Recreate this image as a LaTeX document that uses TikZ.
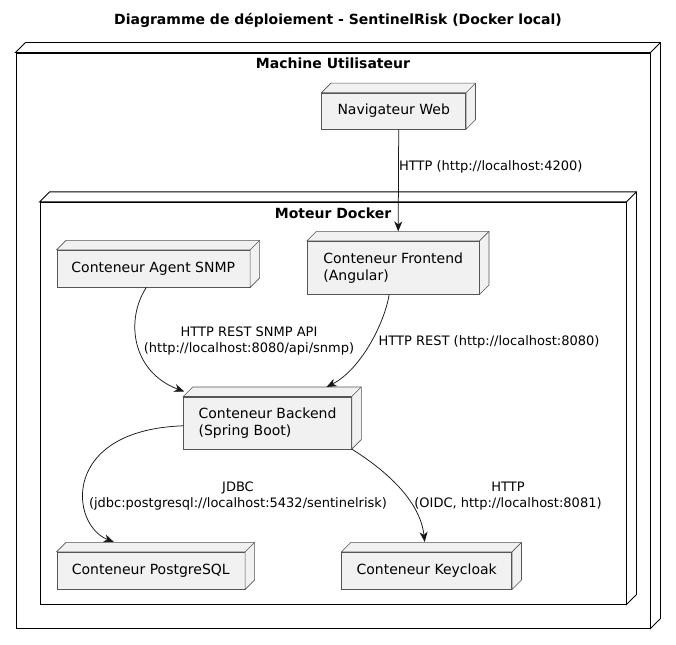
\documentclass[tikz,border=0pt]{standalone}
\usepackage{fontspec}
\setmainfont{DejaVu Sans}
\usetikzlibrary{arrows.meta}

\definecolor{boxfill}{HTML}{F1F1F1}
\definecolor{boxline}{HTML}{555555}
\definecolor{arrowline}{HTML}{181818}

\begin{document}
\begin{tikzpicture}[
		x=1pt, y=-1pt,
		container/.style={draw=black, line width=0.9pt, fill=white, inner sep=0pt},
		depot/.style={draw=boxline, line width=0.6pt, fill=boxfill, inner sep=0pt, align=left,
			font=\fontsize{14}{17}\selectfont},
		side/.style={draw=boxline, line width=0.6pt, fill=boxfill},
		heading/.style={font=\fontsize{14}{17}\selectfont\bfseries},
		lien/.style={draw=arrowline, line width=0.75pt, -{Stealth[length=10pt,width=8pt,inset=3pt]}},
		etiquette/.style={font=\fontsize{13}{15.5}\selectfont, align=center, inner sep=0pt}
	]
	\useasboundingbox (0,0) rectangle (676,644);

	\node[heading] (titre) at (338,20) {Diagramme de déploiement - SentinelRisk (Docker local)};

	% Machine Utilisateur
	\node[container, minimum width=634, minimum height=575] (machine) at (333,340.5) {};
	\filldraw[container] (machine.north west) -- ++(10,-10) -- ([shift={(10,-10)}]machine.north east)
		-- ([shift={(10,-10)}]machine.south east) -- (machine.south east) -- (machine.north east) -- cycle;
	\draw[container] (machine.north east) -- ++(10,-10);
	\node[heading] (machinetitre) at (333,63.5) {Machine Utilisateur};

	% Moteur Docker
	\node[container, minimum width=586, minimum height=401.7] (docker) at (333,403.2) {};
	\filldraw[container] (docker.north west) -- ++(10,-10) -- ([shift={(10,-10)}]docker.north east)
		-- ([shift={(10,-10)}]docker.south east) -- (docker.south east) -- (docker.north east) -- cycle;
	\draw[container] (docker.north east) -- ++(10,-10);
	\node[heading] (dockertitre) at (333,213) {Moteur Docker};

	% conteneurs
	\node[depot, minimum width=144, minimum height=36] (nav) at (393.7,111) {Navigateur Web};
	\node[depot, minimum width=172, minimum height=53] (front) at (393.2,267.7) {Conteneur Frontend\\(Angular)};
	\node[depot, minimum width=193, minimum height=37] (agent) at (153.3,268.7) {Conteneur Agent SNMP};
	\node[depot, minimum width=168, minimum height=52] (back) at (267.5,422.8) {Conteneur Backend\\(Spring Boot)};
	\node[depot, minimum width=188, minimum height=37] (pg) at (150.8,570.7) {Conteneur PostgreSQL};
	\node[depot, minimum width=170, minimum height=37] (kc) at (426.7,570.7) {Conteneur Keycloak};

	\foreach \n in {nav,front,agent,back,pg,kc}{
		\filldraw[side] (\n.north west) -- ++(9.5,-9.5) -- ([shift={(9.5,-9.5)}]\n.north east)
			-- ([shift={(9.5,-9.5)}]\n.south east) -- (\n.south east) -- (\n.north east) -- cycle;
		\draw[side] (\n.north east) -- ++(9.5,-9.5);
	}

	% liens
	\draw[lien] ([xshift=5pt]nav.south) -- ([shift={(5,-9.5)}]front.north);
	\draw[lien] ([xshift=-7pt]agent.south) .. controls (125,320) and (132,372) .. ([shift={(1,-5)}]back.north west);
	\draw[lien] ([xshift=-4pt]front.south) .. controls (384,325) and (360,370) .. ([shift={(59,-9.5)}]back.north);
	\draw[lien] ([yshift=-3pt]back.west) .. controls (60,430) and (70,525) .. ([shift={(-37,-10)}]pg.north);
	\draw[lien] (back.south east) .. controls (385,470) and (420,500) .. ([shift={(-2,-10)}]kc.north);

	% etiquettes
	\node[etiquette, anchor=west] (lnav) at (399,167) {HTTP (http://localhost:4200)};
	\node[etiquette] (lagent) at (249,341) {HTTP REST SNMP API\\(http://localhost:8080/api/snmp)};
	\node[etiquette, anchor=west] (lfront) at (378.5,341.7) {HTTP REST (http://localhost:8080)};
	\node[etiquette] (lpg) at (238,496) {JDBC\\(jdbc:postgresql://localhost:5432/sentinelrisk)};
	\node[etiquette] (lkc) at (508,496) {HTTP\\(OIDC, http://localhost:8081)};
\end{tikzpicture}
\end{document}
